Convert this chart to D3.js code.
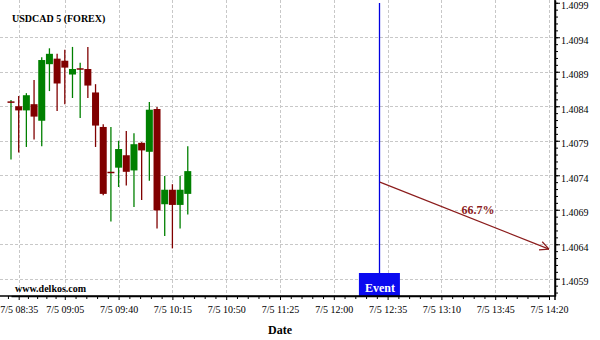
<!DOCTYPE html>
<html>
<head>
<meta charset="utf-8">
<script src="https://cdn.jsdelivr.net/npm/d3@7"></script>
<style>
  body { margin: 0; background: #fff; }
  svg { display: block; font-family: "Liberation Serif", "DejaVu Serif", serif; }
</style>
</head>
<body>
<svg id="chart" width="600" height="340"></svg>
<script>
// 5 minute candles, 7/5 08:30 - 10:25
const times  = ["08:30","08:35","08:40","08:45","08:50","08:55","09:00","09:05","09:10","09:15","09:20","09:25",
                "09:30","09:35","09:40","09:45","09:50","09:55","10:00","10:05","10:10","10:15","10:20","10:25"];
const opens  = [1.40846,1.40840,1.40834,1.40843,1.40819,1.40901,1.40909,1.40906,1.40886,1.40894,1.40894,1.40860,
                1.40810,1.40744,1.40751,1.40769,1.40747,1.40787,1.40774,1.40836,1.40698,1.40719,1.40697,1.40713];
const highs  = [1.40849,1.40855,1.40859,1.40878,1.40911,1.40924,1.40916,1.40922,1.40926,1.40903,1.40926,1.40872,
                1.40814,1.40810,1.40790,1.40804,1.40801,1.40788,1.40846,1.40839,1.40739,1.40727,1.40739,1.40782];
const lows   = [1.40763,1.40773,1.40781,1.40792,1.40782,1.40862,1.40833,1.40843,1.40852,1.40823,1.40852,1.40781,
                1.40711,1.40673,1.40723,1.40725,1.40694,1.40704,1.40732,1.40663,1.40652,1.40634,1.40663,1.40683];
const closes = [1.40846,1.40834,1.40856,1.40825,1.40907,1.40916,1.40873,1.40896,1.40894,1.40894,1.40870,1.40812,
                1.40713,1.40744,1.40778,1.40745,1.40785,1.40776,1.40835,1.40689,1.40719,1.40697,1.40719,1.40746];

const xLabels = ["08:35","09:05","09:40","10:15","10:50","11:25","12:00","12:35","13:10","13:45","14:20"];
const yTicks  = [1.4059,1.4064,1.4069,1.4074,1.4079,1.4084,1.4089,1.4094,1.4099];

const eventTime = "12:30";
const forecastEnd = "14:20";
const forecastFrom = 1.40730;
const forecastTo = 1.40633;
const forecastLabel = "66.7%";

const parseT = d3.timeParse("%Y-%m-%d %H:%M");
const t = s => parseT("2016-07-05 " + s);

const svg = d3.select("#chart");
const plotRight = 555, plotBottom = 296;
const red = "#800000", green = "#008000", arrowCol = "#8b1c1c";

const x = d3.scaleTime().domain([t("08:30"), t("14:20")]).range([11, 549]);
const y = d3.scaleLinear().domain([1.40565, 1.40994]).range([plotBottom, 0]);

const candles = times.map((s, i) => ({
  time: t(s), open: opens[i], high: highs[i], low: lows[i], close: closes[i]
}));

// grid
const grid = svg.append("g").attr("stroke", "#c8c8c8").attr("stroke-dasharray", "3,2").attr("stroke-width", 1);
grid.selectAll(".hg").data(yTicks.filter(v => v < 1.4099)).enter().append("line")
  .attr("x1", 0).attr("x2", plotRight)
  .attr("y1", d => Math.round(y(d)) + 0.5).attr("y2", d => Math.round(y(d)) + 0.5);
grid.selectAll(".vg").data(xLabels).enter().append("line")
  .attr("x1", d => Math.round(x(t(d))) + 0.5).attr("x2", d => Math.round(x(t(d))) + 0.5)
  .attr("y1", 0).attr("y2", plotBottom);

// candles
const bw = 7;
const cg = svg.append("g");
cg.selectAll(".wick").data(candles).enter().append("line")
  .attr("x1", d => x(d.time)).attr("x2", d => x(d.time))
  .attr("y1", d => y(d.high)).attr("y2", d => y(d.low))
  .attr("stroke", d => d.close >= d.open ? green : red)
  .attr("stroke-width", 1.3);
cg.selectAll(".body").data(candles.filter(d => d.open !== d.close)).enter().append("rect")
  .attr("x", d => x(d.time) - bw / 2)
  .attr("y", d => y(Math.max(d.open, d.close)))
  .attr("width", bw)
  .attr("height", d => Math.abs(y(d.open) - y(d.close)))
  .attr("fill", d => d.close > d.open ? green : red);
cg.selectAll(".doji").data(candles.filter(d => d.open === d.close)).enter().append("line")
  .attr("x1", d => x(d.time) - bw / 2).attr("x2", d => x(d.time) + bw / 2)
  .attr("y1", d => y(d.open)).attr("y2", d => y(d.open))
  .attr("stroke", red).attr("stroke-width", 1.5);

// event line and box
const ex = x(t(eventTime));
svg.append("line")
  .attr("x1", Math.round(ex) - 0.5).attr("x2", Math.round(ex) - 0.5).attr("y1", 3).attr("y2", plotBottom)
  .attr("stroke", "#0000e0").attr("stroke-width", 1.3);
svg.append("rect")
  .attr("x", ex - 21).attr("y", 273).attr("width", 41).attr("height", plotBottom - 273)
  .attr("fill", "#0a0af0");
svg.append("text")
  .attr("x", ex).attr("y", 292).attr("text-anchor", "middle")
  .attr("fill", "#fff").attr("font-weight", "bold").attr("font-size", 12)
  .text("Event");

// forecast arrow
const ax1 = ex, ay1 = y(forecastFrom), ax2 = x(t(forecastEnd)), ay2 = y(forecastTo);
svg.append("line")
  .attr("x1", ax1).attr("y1", ay1).attr("x2", ax2).attr("y2", ay2)
  .attr("stroke", arrowCol).attr("stroke-width", 1.2);
const ang = Math.atan2(ay2 - ay1, ax2 - ax1);
[0.45, -0.45].forEach(a => {
  svg.append("line")
    .attr("x1", ax2).attr("y1", ay2)
    .attr("x2", ax2 - 10 * Math.cos(ang + a)).attr("y2", ay2 - 10 * Math.sin(ang + a))
    .attr("stroke", arrowCol).attr("stroke-width", 1.2);
});
svg.append("text")
  .attr("x", ax1 + (ax2 - ax1) * 0.58).attr("y", ay1 + (ay2 - ay1) * 0.58 - 7)
  .attr("text-anchor", "middle")
  .attr("fill", arrowCol).attr("font-weight", "bold").attr("font-size", 12)
  .text(forecastLabel);

// right axis
const minorY = d3.range(0, 43).map(i => 1.4057 + i * 0.0001).filter(v => y(v) >= 0 && y(v) <= plotBottom);
svg.append("g").attr("transform", `translate(${plotRight},0)`)
  .call(d3.axisRight(y).tickValues(minorY).tickSize(3).tickFormat(""))
  .call(g => g.select(".domain").remove());
const yAxis = svg.append("g").attr("transform", `translate(${plotRight},0)`)
  .call(d3.axisRight(y).tickValues(yTicks).tickSize(5).tickSizeOuter(0).tickPadding(1).tickFormat(d3.format(".4f")));
yAxis.selectAll("text").attr("font-size", 10).attr("font-family", "Liberation Serif").attr("dy", "0.62em").attr("fill", "#000");

// bottom axis
const labelTimes = xLabels.map(t);
const minorX = [];
minorX.push(new Date(+labelTimes[0] - 7 * 60000));
for (let i = 0; i < labelTimes.length - 1; i++) {
  const a = +labelTimes[i], b = +labelTimes[i + 1];
  for (let k = 1; k < 5; k++) minorX.push(new Date(a + (b - a) * k / 5));
}
svg.append("g").attr("transform", `translate(0,${plotBottom})`)
  .call(d3.axisBottom(x).tickValues(minorX).tickSize(3).tickFormat(""))
  .call(g => g.select(".domain").remove());
const xAxis = svg.append("g").attr("transform", `translate(0,${plotBottom})`)
  .call(d3.axisBottom(x).tickValues(labelTimes).tickSize(4).tickSizeOuter(0).tickPadding(6)
    .tickFormat(d => "7/5 " + d3.timeFormat("%H:%M")(d)));
xAxis.selectAll("text").attr("font-size", 10).attr("font-family", "Liberation Serif").attr("fill", "#000");

svg.selectAll(".domain").attr("stroke", "#000").attr("stroke-width", 1.5);
// extend domain lines to the corner
svg.append("line").attr("x1", 0).attr("x2", plotRight + 0.75).attr("y1", plotBottom).attr("y2", plotBottom)
  .attr("stroke", "#000").attr("stroke-width", 1.5);
svg.append("line").attr("x1", plotRight).attr("x2", plotRight).attr("y1", 0).attr("y2", plotBottom + 4)
  .attr("stroke", "#000").attr("stroke-width", 1.5);

// texts
svg.append("text").attr("x", 12).attr("y", 22)
  .attr("font-size", 10).attr("font-weight", "bold").text("USDCAD 5 (FOREX)");
svg.append("text").attr("x", 15).attr("y", 292)
  .attr("font-size", 10).attr("font-weight", "bold").text("www.delkos.com");
svg.append("text").attr("x", 280).attr("y", 334).attr("text-anchor", "middle")
  .attr("font-size", 12).attr("font-weight", "bold").text("Date");
</script>
</body>
</html>
